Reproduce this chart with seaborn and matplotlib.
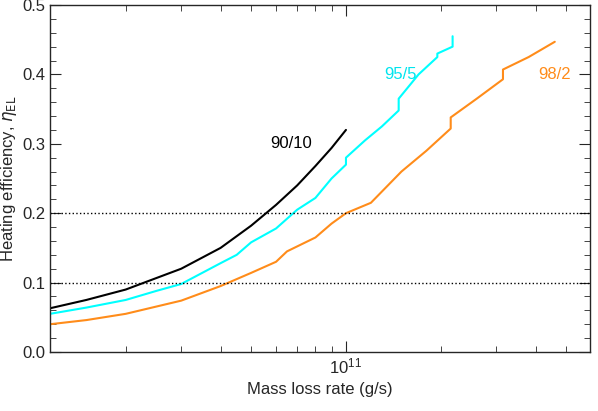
import numpy as np
import matplotlib
matplotlib.use("Agg")
import matplotlib.pyplot as plt
import seaborn as sns
from matplotlib.ticker import LogLocator, NullFormatter, MultipleLocator

sns.set_style("ticks")
plt.rcParams['font.family'] = ['Liberation Sans', 'DejaVu Sans']

x_9010 = [1.15e10, 1.5e10, 2e10, 3e10, 4e10, 5e10, 6e10, 7e10, 8e10, 9e10, 1e11]
y_9010 = [0.063, 0.075, 0.09, 0.12, 0.15, 0.182, 0.212, 0.24, 0.268, 0.294, 0.32]

x_955 = [1.15e10, 1.5e10, 2e10, 2.5e10, 3e10, 4e10, 4.5e10, 5e10, 6e10, 7e10, 8e10, 9e10, 1e11, 1e11,
         1.15e11, 1.3e11, 1.47e11, 1.47e11, 1.7e11, 1.95e11, 1.95e11, 2.18e11, 2.18e11]
y_955 = [0.055, 0.064, 0.075, 0.088, 0.098, 0.128, 0.14, 0.158, 0.178, 0.205, 0.222, 0.25, 0.27, 0.28,
         0.305, 0.325, 0.348, 0.365, 0.4, 0.425, 0.43, 0.44, 0.455]

x_982 = [1.15e10, 1.5e10, 2e10, 3e10, 4e10, 5e10, 6e10, 6.5e10, 8e10, 9e10, 1e11, 1.2e11, 1.5e11,
         1.8e11, 2.15e11, 2.15e11, 2.6e11, 3.15e11, 3.15e11, 3.8e11, 4.6e11]
y_982 = [0.04, 0.046, 0.055, 0.074, 0.095, 0.114, 0.13, 0.145, 0.165, 0.185, 0.2, 0.215, 0.26,
         0.29, 0.322, 0.338, 0.365, 0.393, 0.407, 0.425, 0.447]

fig = plt.figure(figsize=(5.98, 4.11), dpi=100)
ax = fig.add_axes([50/598, 59/411, 540/598, 347/411])

sns.lineplot(x=x_9010, y=y_9010, color='black', lw=1.5, ax=ax, sort=False, estimator=None)
sns.lineplot(x=x_955, y=y_955, color='#00ffff', lw=1.5, ax=ax, sort=False, estimator=None)
sns.lineplot(x=x_982, y=y_982, color='#ff8c1a', lw=1.5, ax=ax, sort=False, estimator=None)

ax.set_xscale('log')
ax.set_xlim(1.15e10, 5.95e11)
ax.set_ylim(0, 0.5)
for yv in [0.1, 0.2]:
    ax.axhline(yv, color='black', ls=':', lw=1)

ax.text(6.7e10, 0.30, '90/10', color='black', fontsize=12, ha='center', va='center')
ax.text(1.49e11, 0.40, '95/5', color='#00e5ee', fontsize=12, ha='center', va='center')
ax.text(4.6e11, 0.40, '98/2', color='#ff8c1a', fontsize=12, ha='center', va='center')

ax.xaxis.set_major_locator(LogLocator(base=10, numticks=10))
ax.xaxis.set_minor_locator(LogLocator(base=10, subs=np.arange(2, 10), numticks=20))
ax.xaxis.set_minor_formatter(NullFormatter())
ax.yaxis.set_major_locator(MultipleLocator(0.1))
ax.yaxis.set_minor_locator(MultipleLocator(0.02))
ax.yaxis.set_major_formatter(matplotlib.ticker.FormatStrFormatter('%.1f'))
ax.tick_params(which='both', direction='in', top=True, right=True, labelsize=12)
ax.tick_params(which='major', length=8)
ax.tick_params(which='minor', length=4)
for s in ax.spines.values():
    s.set_visible(True)
    s.set_linewidth(1)

ax.set_xlabel('Mass loss rate (g/s)', fontsize=12)
ax.set_ylabel(r'Heating efficiency, $\eta_{\rm EL}$', fontsize=12, labelpad=2)
fig.savefig('out.png', dpi=100)
